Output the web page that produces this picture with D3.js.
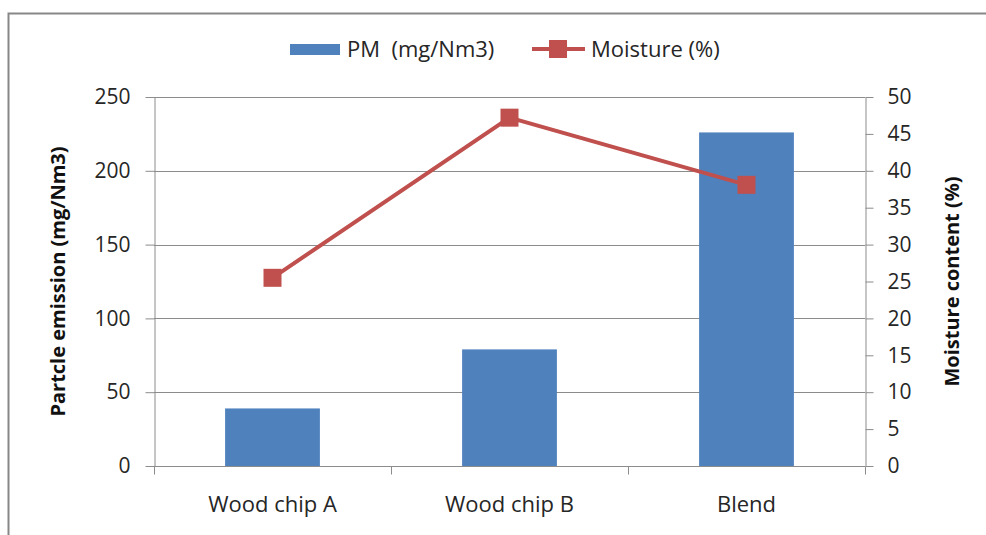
<!DOCTYPE html>
<html>
<head>
<meta charset="utf-8">
<script src="https://cdn.jsdelivr.net/npm/d3@7"></script>
<style>
  body { margin: 0; background: #fff; }
  svg { display: block; font-family: "Open Sans", sans-serif; }
</style>
</head>
<body>
<div id="chart"></div>
<script>
//~~~~~~~~~~~~~~~~~~~~~~~~~~~~~~~~~~~~
// Data
//~~~~~~~~~~~~~~~~~~~~~~~~~~~~~~~~~~~~
const categories = ["Wood chip A", "Wood chip B", "Blend"];
const pmValues = [39, 79, 226];
const moistureValues = [25.5, 47.2, 38.1];
const leftTicks = [0, 50, 100, 150, 200, 250];
const rightTicks = [0, 5, 10, 15, 20, 25, 30, 35, 40, 45, 50];

//~~~~~~~~~~~~~~~~~~~~~~~~~~~~~~~~~~~~
// Chart
//~~~~~~~~~~~~~~~~~~~~~~~~~~~~~~~~~~~~
function createChart() {
    const width = 986;
    const height = 535;
    const plot = {left: 154, right: 865, top: 97, bottom: 466};
    const gray = "#8c8c8c";
    const textColor = "#262626";
    const barColor = "#4f81bd";
    const lineColor = "#c0504d";

    const svg = d3.select("#chart")
        .append("svg")
        .attr("width", width)
        .attr("height", height);

    // outer border (only top and left visible in the picture)
    svg.append("rect")
        .attr("x", 8.5).attr("y", 13.5)
        .attr("width", 1000).attr("height", 600)
        .attr("fill", "none")
        .attr("stroke", "#878787")
        .attr("stroke-width", 2);

    const x = d3.scaleBand()
        .domain(categories)
        .range([plot.left, plot.right])
        .paddingInner(0.6)
        .paddingOuter(0.3);

    const xBand = d3.scaleBand()
        .domain(categories)
        .range([plot.left, plot.right]);

    const yLeft = d3.scaleLinear().domain([0, 250]).range([plot.bottom, plot.top]);
    const yRight = d3.scaleLinear().domain([0, 50]).range([plot.bottom, plot.top]);

    // gridlines
    svg.append("g")
        .selectAll("line")
        .data(leftTicks)
        .join("line")
        .attr("x1", plot.left).attr("x2", plot.right)
        .attr("y1", d => Math.round(yLeft(d)) + 0.5)
        .attr("y2", d => Math.round(yLeft(d)) + 0.5)
        .attr("stroke", gray)
        .attr("stroke-width", 1);

    // bars
    svg.append("g")
        .selectAll("rect")
        .data(pmValues)
        .join("rect")
        .attr("x", (d, i) => x(categories[i]))
        .attr("width", x.bandwidth())
        .attr("y", d => yLeft(d))
        .attr("height", d => yLeft(0) - yLeft(d))
        .attr("fill", barColor);

    // left axis
    const leftAxis = svg.append("g")
        .attr("transform", `translate(${plot.left + 0.5},0)`)
        .call(d3.axisLeft(yLeft).tickValues(leftTicks).tickSize(9).tickPadding(15).tickSizeOuter(0));
    // right axis
    const rightAxis = svg.append("g")
        .attr("transform", `translate(${plot.right + 0.5},0)`)
        .call(d3.axisRight(yRight).tickValues(rightTicks).tickSize(8).tickPadding(14).tickSizeOuter(0));
    // bottom axis with ticks at band boundaries
    const bottomAxis = svg.append("g")
        .attr("transform", `translate(0,${plot.bottom + 0.5})`);
    bottomAxis.append("line")
        .attr("x1", plot.left).attr("x2", plot.right)
        .attr("stroke", gray);
    const bounds = categories.map(c => xBand(c)).concat([plot.right]);
    bottomAxis.selectAll(".btick")
        .data(bounds)
        .join("line")
        .attr("class", "btick")
        .attr("x1", d => Math.round(d) + 0.5).attr("x2", d => Math.round(d) + 0.5)
        .attr("y1", 0).attr("y2", 8)
        .attr("stroke", gray);
    bottomAxis.selectAll(".blabel")
        .data(categories)
        .join("text")
        .attr("class", "blabel")
        .attr("x", d => xBand(d) + xBand.bandwidth() / 2)
        .attr("y", 45)
        .attr("text-anchor", "middle")
        .attr("font-size", 22)
        .attr("fill", textColor)
        .text(d => d);

    [leftAxis, rightAxis].forEach(a => {
        a.select(".domain").attr("stroke", gray);
        a.selectAll(".tick line").attr("stroke", gray);
        a.selectAll(".tick text")
            .attr("font-size", 21)
            .attr("font-family", "'Open Sans', sans-serif")
            .attr("fill", textColor);
    });

    // moisture line
    const line = d3.line()
        .x((d, i) => xBand(categories[i]) + xBand.bandwidth() / 2)
        .y(d => yRight(d));

    svg.append("path")
        .datum(moistureValues)
        .attr("d", line)
        .attr("fill", "none")
        .attr("stroke", lineColor)
        .attr("stroke-width", 4);

    const ms = 18;
    svg.append("g")
        .selectAll("rect")
        .data(moistureValues)
        .join("rect")
        .attr("x", (d, i) => xBand(categories[i]) + xBand.bandwidth() / 2 - ms / 2)
        .attr("y", d => yRight(d) - ms / 2)
        .attr("width", ms).attr("height", ms)
        .attr("fill", lineColor);

    // axis titles
    svg.append("text")
        .attr("transform", `translate(65,${(plot.top + plot.bottom) / 2}) rotate(-90)`)
        .attr("text-anchor", "middle")
        .attr("font-size", 20)
        .attr("font-weight", "bold")
        .attr("fill", "#111")
        .text("Partcle emission (mg/Nm3)");

    svg.append("text")
        .attr("transform", `translate(959,${(plot.top + plot.bottom) / 2}) rotate(-90)`)
        .attr("text-anchor", "middle")
        .attr("font-size", 20)
        .attr("font-weight", "bold")
        .attr("fill", "#111")
        .text("Moisture content (%)");

    // legend
    const legend = svg.append("g");
    legend.append("rect")
        .attr("x", 290).attr("y", 44)
        .attr("width", 50).attr("height", 11)
        .attr("fill", barColor);
    legend.append("text")
        .attr("x", 347).attr("y", 57)
        .attr("font-size", 22)
        .attr("fill", textColor)
        .attr("xml:space", "preserve")
        .style("white-space", "pre")
        .text("PM  (mg/Nm3)");
    legend.append("line")
        .attr("x1", 532).attr("x2", 585)
        .attr("y1", 49).attr("y2", 49)
        .attr("stroke", lineColor)
        .attr("stroke-width", 4);
    legend.append("rect")
        .attr("x", 558 - ms / 2).attr("y", 49 - ms / 2)
        .attr("width", ms).attr("height", ms)
        .attr("fill", lineColor);
    legend.append("text")
        .attr("x", 591).attr("y", 57)
        .attr("font-size", 22)
        .attr("fill", textColor)
        .text("Moisture (%)");
}

createChart();
</script>
</body>
</html>
